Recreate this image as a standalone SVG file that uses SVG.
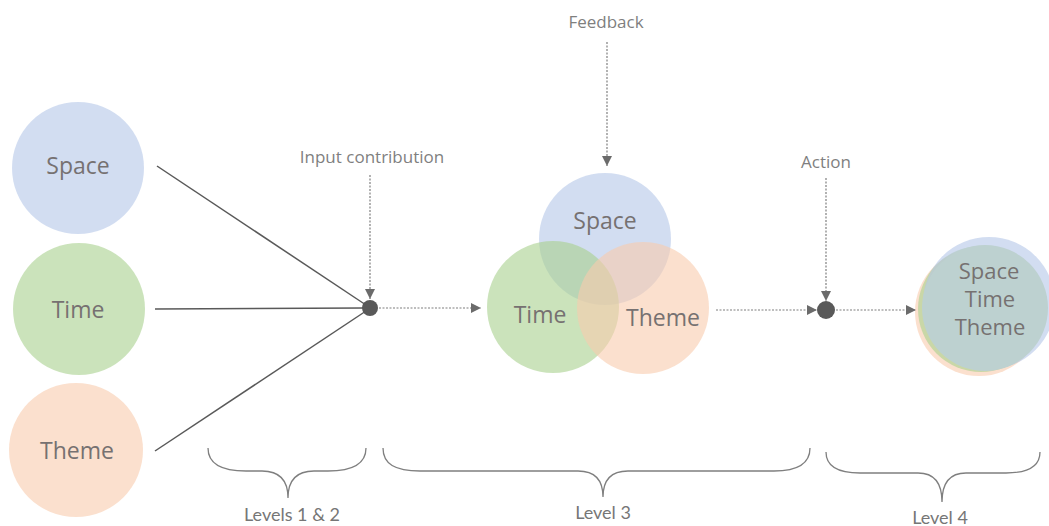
<svg xmlns="http://www.w3.org/2000/svg" width="1049" height="526" viewBox="0 0 1049 526">
  <style>
    .lbl { font-family: "Open Sans", "Noto Sans", sans-serif; font-size: 23px; fill: #767171; text-anchor: middle; }
    .stack { font-family: "Open Sans", "Noto Sans", sans-serif; font-size: 22px; fill: #767171; text-anchor: middle; }
    .note { font-family: "Open Sans", "Noto Sans", sans-serif; font-size: 17px; fill: #7f7f7f; text-anchor: middle; }
    .lvl { font-family: "Lato", "Open Sans", sans-serif; font-size: 18px; fill: #767676; text-anchor: middle; }
    .blue { fill: #b4c7e7; fill-opacity: 0.6; }
    .green { fill: #a9d18e; fill-opacity: 0.6; }
    .orange { fill: #f8cbad; fill-opacity: 0.6; }
    .solid { stroke: #595959; stroke-width: 1.5; fill: none; }
    .dots { stroke: #7f7f7f; stroke-width: 1.2; stroke-dasharray: 2 1.5; fill: none; marker-end: url(#arrow); }
    .brace { stroke: #7f7f7f; stroke-width: 1.3; fill: none; }
    .hub { fill: #595959; }
  </style>
  <defs>
    <marker id="arrow" viewBox="0 0 10 10" refX="10" refY="5" markerWidth="10" markerHeight="10" markerUnits="userSpaceOnUse" orient="auto">
      <path d="M0,0 L10,5 L0,10 Z" fill="#6b6b6b"/>
    </marker>
  </defs>
  <rect width="1049" height="526" fill="#ffffff"/>

  <!-- input circles -->
  <g id="space-in">
    <circle class="blue" cx="78" cy="168" r="66"/>
    <text class="lbl" x="78" y="174">Space</text>
  </g>
  <g id="time-in">
    <circle class="green" cx="79" cy="309" r="66"/>
    <text class="lbl" x="78" y="318">Time</text>
  </g>
  <g id="theme-in">
    <circle class="orange" cx="76" cy="450" r="67"/>
    <text class="lbl" x="77" y="459">Theme</text>
  </g>

  <!-- merge points -->
  <g id="hub-input">
    <circle class="hub" cx="370" cy="308" r="8"/>
  </g>
  <g id="hub-action">
    <circle class="hub" cx="826" cy="310" r="9"/>
  </g>

  <!-- overlapping circles -->
  <g id="venn">
    <circle class="blue" cx="605" cy="239" r="66"/>
    <circle class="green" cx="553" cy="307" r="66"/>
    <circle class="orange" cx="643" cy="308" r="66"/>
    <text class="lbl" x="605" y="229">Space</text>
    <text class="lbl" x="540" y="323">Time</text>
    <text class="lbl" x="663" y="326">Theme</text>
  </g>

  <!-- merged circle -->
  <g id="merged">
    <circle class="orange" cx="979" cy="312" r="64"/>
    <circle class="green" cx="981" cy="309" r="63"/>
    <circle class="blue" cx="989" cy="303" r="66"/>
    <circle cx="985" cy="308" r="63" fill="#bdd1d0"/>
    <text class="stack" x="989" y="279">Space</text>
    <text class="stack" x="990" y="307">Time</text>
    <text class="stack" x="990" y="335">Theme</text>
  </g>

  <!-- annotations -->
  <g id="labels">
    <text class="note" x="372" y="163">Input contribution</text>
    <text class="note" x="606" y="28">Feedback</text>
    <text class="note" x="826" y="168">Action</text>
  </g>

  <!-- connectors -->
  <g id="connectors">
    <line class="solid" x1="157" y1="166" x2="366" y2="305"/>
    <line class="solid" x1="155" y1="309" x2="364" y2="308"/>
    <line class="solid" x1="155" y1="451" x2="366" y2="311"/>
    <line class="dots" x1="370" y1="175" x2="370" y2="299"/>
    <line class="dots" x1="379" y1="308" x2="481" y2="308"/>
    <line class="dots" x1="607" y1="42" x2="607" y2="166"/>
    <line class="dots" x1="716" y1="310" x2="817" y2="310"/>
    <line class="dots" x1="826" y1="178" x2="826" y2="301"/>
    <line class="dots" x1="836" y1="310" x2="916" y2="310"/>
  </g>

  <!-- level braces -->
  <g id="level-1-2">
    <path class="brace" d="M208,448 C208,464 222,471 246,471 L262,471 C280,471 288,480 288,498 C288,480 296,471 314,471 L328,471 C352,471 366,464 366,448"/>
    <text class="lvl" x="292" y="521">Levels 1 &amp; 2</text>
  </g>
  <g id="level-3">
    <path class="brace" d="M383,448 C383,464 395,471 420,471 L578,471 C595,471 603,480 603,497 C603,480 611,471 628,471 L774,471 C798,471 810,464 810,448"/>
    <text class="lvl" x="603" y="519">Level 3</text>
  </g>
  <g id="level-4">
    <path class="brace" d="M826,452 C826,467 838,473 860,473 L918,473 C934,473 942,483 942,502 C942,483 950,473 966,473 L1006,473 C1028,473 1040,467 1040,452"/>
    <text class="lvl" x="940" y="524">Level 4</text>
  </g>
</svg>
